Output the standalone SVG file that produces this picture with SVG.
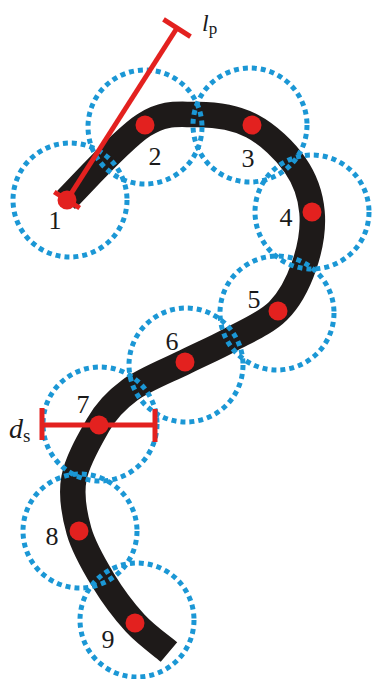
<svg xmlns="http://www.w3.org/2000/svg" width="372" height="679" viewBox="0 0 372 679">
<style>
.ring{fill:none;stroke:#1b97d5;stroke-width:5;stroke-dasharray:5 4}
.dot{fill:#e3211f}
.num{font-family:"Liberation Serif","Times New Roman",serif;font-size:26px;fill:#1a1a1a;text-anchor:middle}
.red{stroke:#e3211f;stroke-width:5;fill:none}
.it{font-family:"Liberation Serif",serif;font-style:italic;fill:#1a1a1a}
.rm{font-family:"Liberation Serif",serif;fill:#1a1a1a}
</style>
<rect width="372" height="679" fill="#fff"/>
<g id="worm">
<path d="M66,200 C79,187.3 122.3,138.5 144,125 C165.7,111.5 178,114.7 196,114.5 C214,114.3 235.5,117.3 252,126 C268.5,134.7 285,150.7 295,165 C305,179.3 310.5,195.2 312,212 C313.5,228.8 309.7,249.5 304,266 C298.3,282.5 290.3,298.7 278,311 C265.7,323.3 245.5,331.5 230,340 C214.5,348.5 201.7,353.7 185,362 C168.3,370.3 144.3,379.5 130,390 C115.7,400.5 106.3,410.3 98,425 C89.7,439.7 77.3,460.3 74,478 C70.7,495.7 74.2,514 79,531 C83.8,548 93.7,564.7 103,580 C112.3,595.3 124,611 135,623 C146,635 163.3,647.2 169,652" fill="none" stroke="#1e1a19" stroke-width="25.5"/>
</g>
<g id="node1"><circle class="ring" cx="70" cy="200" r="57"/><text class="num" x="55" y="229">1</text></g>
<g id="node2"><circle class="ring" cx="145" cy="127" r="57"/><circle class="dot" cx="145" cy="125" r="9.5"/><text class="num" x="155" y="165">2</text></g>
<g id="node3"><circle class="ring" cx="250" cy="125" r="57"/><circle class="dot" cx="252" cy="125" r="9.5"/><text class="num" x="248" y="167">3</text></g>
<g id="node4"><circle class="ring" cx="312" cy="212" r="57"/><circle class="dot" cx="312" cy="212" r="9.5"/><text class="num" x="286" y="226">4</text></g>
<g id="node5"><circle class="ring" cx="277" cy="313" r="57"/><circle class="dot" cx="278" cy="311" r="9.5"/><text class="num" x="254" y="308">5</text></g>
<g id="node6"><circle class="ring" cx="186" cy="365" r="57"/><circle class="dot" cx="185" cy="362" r="9.5"/><text class="num" x="172" y="350">6</text></g>
<g id="node7"><circle class="ring" cx="100" cy="424" r="57"/><text class="num" x="83" y="413">7</text></g>
<g id="node8"><circle class="ring" cx="80" cy="531" r="57"/><circle class="dot" cx="79" cy="531" r="9.5"/><text class="num" x="52" y="545">8</text></g>
<g id="node9"><circle class="ring" cx="137" cy="620" r="57"/><circle class="dot" cx="135" cy="623" r="9.5"/><text class="num" x="108" y="648">9</text></g>
<g id="lp">
<line class="red" x1="67" y1="200" x2="177" y2="28"/>
<line class="red" x1="163.5" y1="19.4" x2="190.5" y2="36.6"/>
<line class="red" x1="54.3" y1="192" x2="79.7" y2="208"/>
<circle class="dot" cx="67" cy="200" r="9.5"/>
<text x="202" y="31"><tspan class="it" font-size="24">l</tspan><tspan class="rm" font-size="17" dy="3">p</tspan></text>
</g>
<g id="ds">
<line class="red" x1="42" y1="425" x2="155" y2="425" stroke-width="5.5"/>
<line class="red" x1="42" y1="408" x2="42" y2="440" stroke-width="5.5"/>
<line class="red" x1="155" y1="409" x2="155" y2="442" stroke-width="5.5"/>
<circle class="dot" cx="99" cy="425" r="9.5"/>
<text x="9" y="438"><tspan class="it" font-size="28">d</tspan><tspan class="rm" font-size="19" dy="4">s</tspan></text>
</g>
</svg>
